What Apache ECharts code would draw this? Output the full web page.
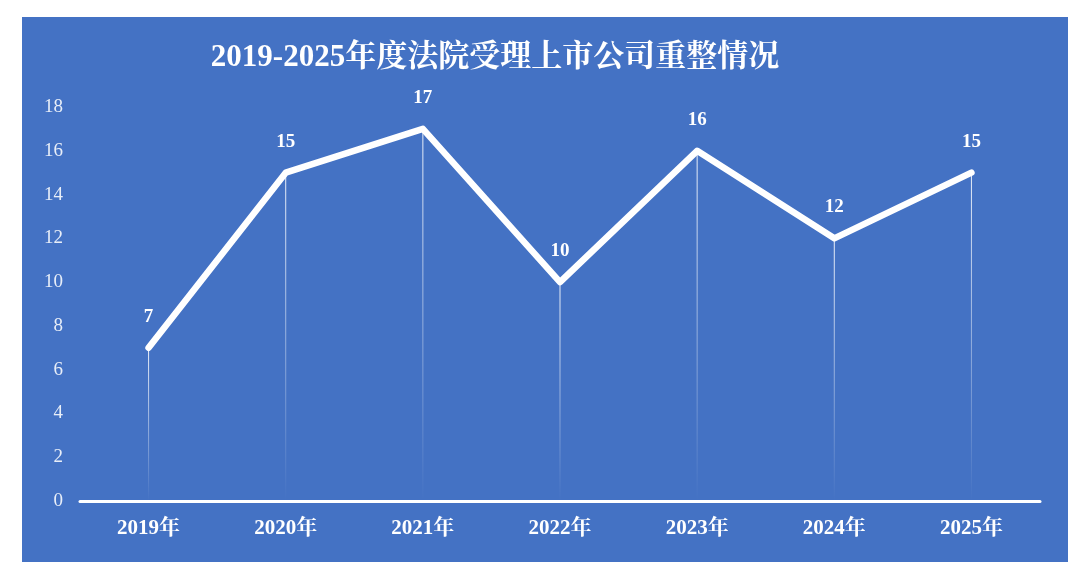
<!DOCTYPE html>
<html><head><meta charset="utf-8">
<script src="https://cdn.jsdelivr.net/npm/echarts@6/dist/echarts.min.js"></script>
<style>html,body{margin:0;padding:0;background:#fff}#c{width:1080px;height:573px}</style>
</head><body><div id="c"></div>
<script>
const titleText = '2019-2025年度法院受理上市公司重整情况';
const categories = ['2019年','2020年','2021年','2022年','2023年','2024年','2025年'];
const values = [7, 15, 17, 10, 16, 12, 15];
const yTicks = [0, 2, 4, 6, 8, 10, 12, 14, 16, 18];

const serif = "'Liberation Serif','Times New Roman','Noto Serif CJK SC','Noto Sans CJK SC',serif";
const chart = echarts.init(document.getElementById('c'));
chart.setOption({
  backgroundColor: '#ffffff',
  animation: false,
  graphic: [{ type: 'rect', z: -10, shape: { x: 22, y: 17, width: 1046, height: 545 }, style: { fill: '#4472C4' } }],
  title: {
    text: titleText, left: 490, top: 37, textAlign: 'center',
    textStyle: { color: '#ffffff', fontFamily: serif, fontWeight: 'bold', fontSize: 31 }
  },
  grid: { left: 80, top: 107, width: 960, height: 394, containLabel: false },
  xAxis: {
    type: 'category', data: categories, boundaryGap: true,
    axisLine: { show: true, lineStyle: { color: '#ffffff', width: 3 } },
    axisTick: { show: false },
    axisLabel: { color: '#ffffff', fontFamily: serif, fontWeight: 'bold', fontSize: 21, margin: 17 },
    splitLine: { show: false }
  },
  yAxis: {
    type: 'value', min: yTicks[0], max: yTicks[yTicks.length - 1], interval: 2,
    axisLine: { show: false }, axisTick: { show: false }, splitLine: { show: false },
    axisLabel: { color: '#e8eef8', fontFamily: serif, fontSize: 19, margin: 17 }
  },
  series: [
    {
      type: 'bar', data: values, barWidth: 1, silent: true, z: 1,
      itemStyle: {
        color: { type: 'linear', x: 0, y: 0, x2: 0, y2: 1, colorStops: [
          { offset: 0, color: 'rgba(255,255,255,0.9)' },
          { offset: 1, color: 'rgba(255,255,255,0.0)' } ] }
      }
    },
    {
      type: 'line', data: values, symbol: 'circle', symbolSize: 1, showSymbol: true, z: 3,
      lineStyle: { color: '#ffffff', width: 6.5, cap: 'round', join: 'round' },
      itemStyle: { color: '#ffffff' },
      label: { show: true, position: 'top', distance: 21, color: '#ffffff', fontFamily: serif, fontWeight: 'bold', fontSize: 19 }
    }
  ]
});
</script></body></html>
